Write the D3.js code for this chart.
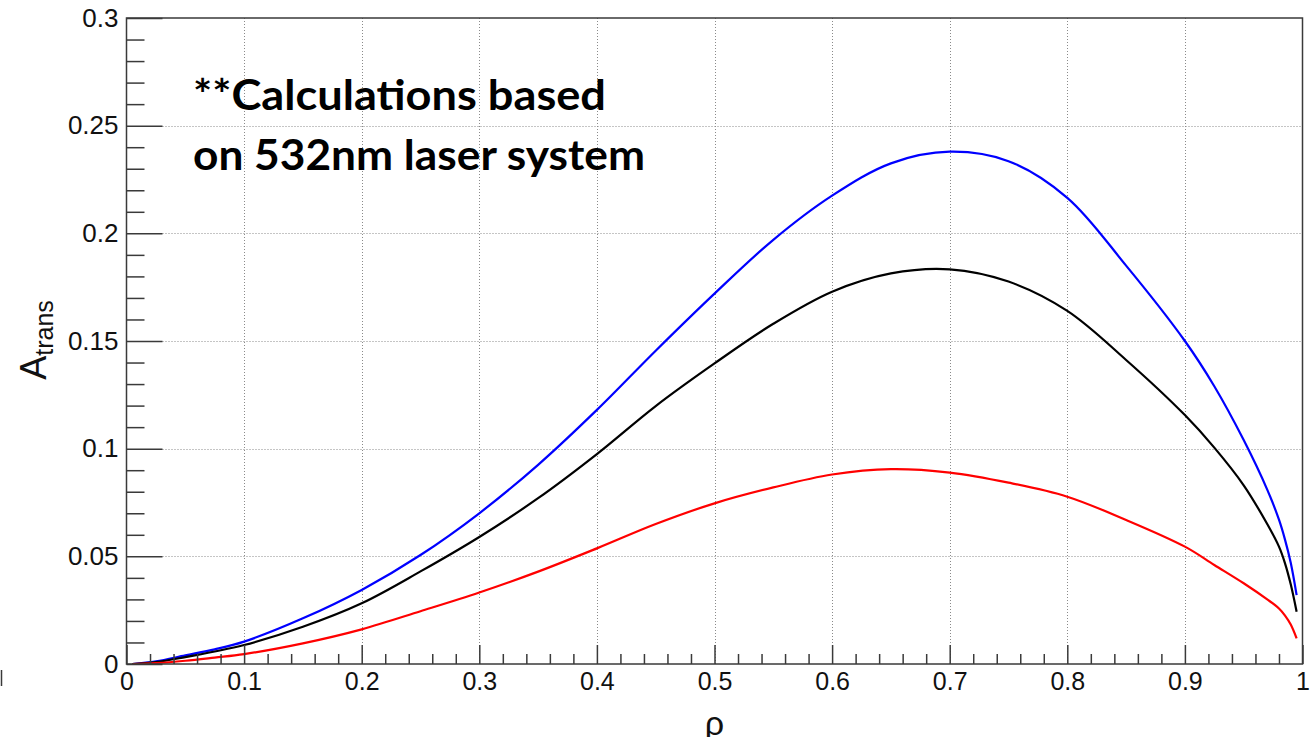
<!DOCTYPE html>
<html>
<head>
<meta charset="utf-8">
<script src="https://cdn.jsdelivr.net/npm/d3@7"></script>
<style>
  html, body { margin: 0; padding: 0; background: #fff; }
  svg { display: block; }
</style>
</head>
<body>
<svg id="chart" width="1316" height="737"></svg>
<script>
// ---- data ----
const rho = [0.005, 0.025, 0.05, 0.075, 0.1, 0.15, 0.2, 0.25, 0.3, 0.35, 0.4, 0.45, 0.5, 0.55, 0.6, 0.65, 0.7, 0.75, 0.8, 0.85, 0.9, 0.925, 0.95, 0.97, 0.98, 0.985, 0.99, 0.995];
const blueVals  = [0, 0.0012, 0.0040, 0.0068, 0.0104, 0.0212, 0.0344, 0.0506, 0.0700, 0.0925, 0.1180, 0.1455, 0.1720, 0.1970, 0.2175, 0.2325, 0.2379, 0.2335, 0.2165, 0.1850, 0.1500, 0.1290, 0.1040, 0.0810, 0.0670, 0.0580, 0.0470, 0.0320];
const blackVals = [0, 0.0009, 0.0032, 0.0058, 0.0088, 0.0173, 0.0282, 0.0430, 0.0590, 0.0770, 0.0975, 0.1198, 0.1396, 0.1580, 0.1729, 0.1814, 0.1833, 0.1776, 0.1640, 0.1412, 0.1156, 0.1005, 0.0830, 0.0650, 0.0545, 0.0470, 0.0370, 0.0243];
const redVals   = [0, 0.0004, 0.0015, 0.0030, 0.0046, 0.0096, 0.0161, 0.0245, 0.0332, 0.0429, 0.0537, 0.0650, 0.0746, 0.0820, 0.0880, 0.0905, 0.0889, 0.0842, 0.0777, 0.0669, 0.0545, 0.0460, 0.0375, 0.0300, 0.0258, 0.0226, 0.0183, 0.0119];

const seriesColors = ["#0000ff", "#000000", "#ff0000"];
const seriesList = [blueVals, blackVals, redVals];

const xMajor = [0, 0.1, 0.2, 0.3, 0.4, 0.5, 0.6, 0.7, 0.8, 0.9, 1];
const xMajorLabels = ["0", "0.1", "0.2", "0.3", "0.4", "0.5", "0.6", "0.7", "0.8", "0.9", "1"];
const yMajor = [0, 0.05, 0.1, 0.15, 0.2, 0.25, 0.3];
const yMajorLabels = ["0", "0.05", "0.1", "0.15", "0.2", "0.25", "0.3"];
const xTitle = "ρ";
const yTitleMain = "A";
const yTitleSub = "trans";
const noteLines = ["**Calculations based", "on 532nm laser system"];

// ---- layout ----
const svg = d3.select("#chart");
const L = 126.5, R = 1302.5, T = 18, B = 664;
const x = d3.scaleLinear().domain([0, 1]).range([L, R]);
const y = d3.scaleLinear().domain([0, 0.3]).range([B, T]);

const xMinor = d3.range(0, 1.0001, 0.02).map(v => +v.toFixed(2)).filter(v => !xMajor.some(m => Math.abs(m - v) < 1e-9));
const yMinor = d3.range(0, 0.3001, 0.01).map(v => +v.toFixed(2)).filter(v => !yMajor.some(m => Math.abs(m - v) < 1e-9));

const axisColor = "#3a3a3a";
const fontFam = "'Liberation Sans', Arial, Helvetica, sans-serif";

// grid
const grid = svg.append("g").attr("stroke", "#8a8a8a").attr("stroke-width", 1).attr("stroke-dasharray", "1,2");
grid.selectAll("line.gx").data(xMajor.filter(v => v > 0 && v < 1)).join("line")
  .attr("x1", d => Math.round(x(d)) + 0.5).attr("x2", d => Math.round(x(d)) + 0.5)
  .attr("y1", T).attr("y2", B);
grid.selectAll("line.gy").data(yMajor.filter(v => v > 0 && v < 0.3)).join("line")
  .attr("x1", L).attr("x2", R)
  .attr("y1", d => Math.round(y(d)) + 0.5).attr("y2", d => Math.round(y(d)) + 0.5);

// curves
const line = d3.line().x(d => x(d[0])).y(d => y(d[1])).curve(d3.curveCatmullRom.alpha(0.5));
seriesList.forEach((vals, i) => {
  svg.append("path")
    .datum(rho.map((r, k) => [r, vals[k]]))
    .attr("fill", "none")
    .attr("stroke", seriesColors[i])
    .attr("stroke-width", 2.2)
    .attr("stroke-linejoin", "round")
    .attr("d", line);
});

// frame
svg.append("rect").attr("x", L).attr("y", T).attr("width", R - L).attr("height", B - T)
  .attr("fill", "none").attr("stroke", axisColor).attr("stroke-width", 1.5);

// y axis major
const yAxis = d3.axisLeft(y).tickValues(yMajor).tickSize(-36).tickPadding(8)
  .tickFormat((d, i) => yMajorLabels[i]);
const gy = svg.append("g").attr("transform", `translate(${L},0)`).call(yAxis);
gy.select(".domain").remove();
gy.selectAll(".tick line").attr("stroke", axisColor).attr("stroke-width", 1.5);
gy.selectAll(".tick text").attr("font-family", fontFam).attr("font-size", 26).attr("fill", "#111");

// y axis minor
const gyMin = svg.append("g").attr("transform", `translate(${L},0)`)
  .call(d3.axisLeft(y).tickValues(yMinor).tickSize(-18).tickFormat(""));
gyMin.select(".domain").remove();
gyMin.selectAll(".tick line").attr("stroke", axisColor).attr("stroke-width", 1.5);

// x axis major
const xAxis = d3.axisBottom(x).tickValues(xMajor).tickSize(-19).tickPadding(8)
  .tickFormat((d, i) => xMajorLabels[i]);
const gx = svg.append("g").attr("transform", `translate(0,${B})`).call(xAxis);
gx.select(".domain").remove();
gx.selectAll(".tick line").attr("stroke", axisColor).attr("stroke-width", 1.5);
gx.selectAll(".tick text").attr("font-family", fontFam).attr("font-size", 25).attr("fill", "#111");

// x axis minor
const gxMin = svg.append("g").attr("transform", `translate(0,${B})`)
  .call(d3.axisBottom(x).tickValues(xMinor).tickSize(-10).tickFormat(""));
gxMin.select(".domain").remove();
gxMin.selectAll(".tick line").attr("stroke", axisColor).attr("stroke-width", 1.5);

// axis titles
svg.append("text")
  .attr("x", (L + R) / 2).attr("y", 735)
  .attr("text-anchor", "middle")
  .attr("font-family", fontFam).attr("font-size", 34).attr("fill", "#111")
  .text(xTitle);

const yt = svg.append("text")
  .attr("transform", "translate(46,340) rotate(-90)")
  .attr("text-anchor", "middle")
  .attr("font-family", fontFam).attr("fill", "#111");
yt.append("tspan").attr("font-size", 36).text(yTitleMain);
yt.append("tspan").attr("font-size", 25).attr("dy", 7).text(yTitleSub);

// annotation
const noteWidths = [413, 452];
const note = svg.append("g").attr("font-family", "Lato, 'Open Sans', sans-serif")
  .attr("font-weight", 700).attr("fill", "#000");
noteLines.forEach((t, i) => {
  note.append("text").attr("x", 193).attr("y", 110 + i * 60)
    .attr("font-size", 42)
    .attr("textLength", noteWidths[i]).attr("lengthAdjust", "spacingAndGlyphs")
    .text(t);
});

// small stray mark at left edge of the original picture
svg.append("line").attr("x1", 1.5).attr("x2", 1.5).attr("y1", 670).attr("y2", 686)
  .attr("stroke", axisColor).attr("stroke-width", 1.5);
</script>
</body>
</html>
